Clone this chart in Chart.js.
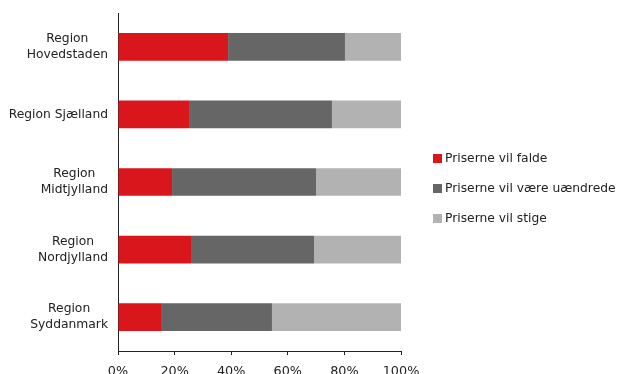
<!DOCTYPE html>
<html>
<head>
<meta charset="utf-8">
<script src="https://cdn.jsdelivr.net/npm/chart.js@4"></script>
<style>
  html, body { margin: 0; padding: 0; background: #fff; }
  #wrap { position: relative; width: 618px; height: 374px; }
  .leg { position: absolute; left: 433px; font: 12.3px "DejaVu Sans", Verdana, sans-serif; color: #222; white-space: nowrap; line-height: 14px; }
  .leg span { display: inline-block; width: 9px; height: 9px; margin-right: 3px; vertical-align: -1px; }
</style>
</head>
<body>
<div id="wrap">
  <canvas id="prisChart" width="618" height="374"></canvas>
  <div class="leg" style="top:151px"><span style="background:#d9161b"></span>Priserne vil falde</div>
  <div class="leg" style="top:181px"><span style="background:#666666"></span>Priserne vil være uændrede</div>
  <div class="leg" style="top:211px"><span style="background:#b2b2b2"></span>Priserne vil stige</div>
</div>
<script>
const regioner = [['Region', 'Hovedstaden'], ['Region Sjælland'], ['Region', 'Midtjylland'], ['Region', 'Nordjylland'], ['Region', 'Syddanmark']];
const vilFalde = [38.9, 25.1, 19.1, 25.8, 15.5];
const uaendrede = [41.3, 50.5, 50.9, 43.5, 38.9];
const vilStige = [19.8, 24.4, 30.0, 30.7, 45.6];
const xTicks = [0, 20, 40, 60, 80, 100];

const FONT = '"DejaVu Sans", Verdana, sans-serif';

// y-labels: hoejrestillet blok, linjerne centreret inde i blokken
const regionLabels = {
    id: 'regionLabels',
    afterDraw(chart) {
        const { ctx, chartArea, scales } = chart;
        ctx.save();
        ctx.font = '12.3px ' + FONT;
        ctx.fillStyle = '#222';
        ctx.textBaseline = 'middle';
        ctx.textAlign = 'center';
        regioner.forEach((lines, i) => {
            const yc = scales.y.getPixelForValue(i);
            const w = Math.max(...lines.map(l => ctx.measureText(l).width));
            const cx = chartArea.left - 10 - w / 2;
            const lh = 16;
            lines.forEach((l, j) => {
                ctx.fillText(l, cx, yc + (j - (lines.length - 1) / 2) * lh);
            });
        });
        ctx.restore();
    }
};

new Chart(document.getElementById('prisChart'), {
    type: 'bar',
    data: {
        labels: regioner.map(r => r.join(' ')),
        datasets: [
            { label: 'Priserne vil falde', data: vilFalde, backgroundColor: '#d9161b' },
            { label: 'Priserne vil være uændrede', data: uaendrede, backgroundColor: '#666666' },
            { label: 'Priserne vil stige', data: vilStige, backgroundColor: '#b2b2b2' }
        ]
    },
    options: {
        indexAxis: 'y',
        responsive: false,
        devicePixelRatio: 1,
        animation: false,
        barPercentage: 0.41,
        categoryPercentage: 1,
        layout: { padding: { left: 118, right: 217, top: 13, bottom: 0 } },
        plugins: { legend: { display: false }, tooltip: { enabled: false } },
        scales: {
            x: {
                stacked: true,
                min: 0,
                max: 100,
                afterBuildTicks: s => { s.ticks = xTicks.map(v => ({ value: v })); },
                afterFit: s => { s.height = 23; },
                ticks: { callback: v => v + '%', color: '#222', font: { family: FONT, size: 12.8 }, padding: 9, maxRotation: 0 },
                grid: { display: true, drawOnChartArea: false, drawTicks: true, tickLength: 4, color: '#222' },
                border: { display: true, color: '#222', width: 1 }
            },
            y: {
                stacked: true,
                afterFit: s => { s.width = 0; },
                ticks: { display: false },
                grid: { display: false },
                border: { display: true, color: '#222', width: 1 }
            }
        }
    },
    plugins: [regionLabels]
});
</script>
</body>
</html>
